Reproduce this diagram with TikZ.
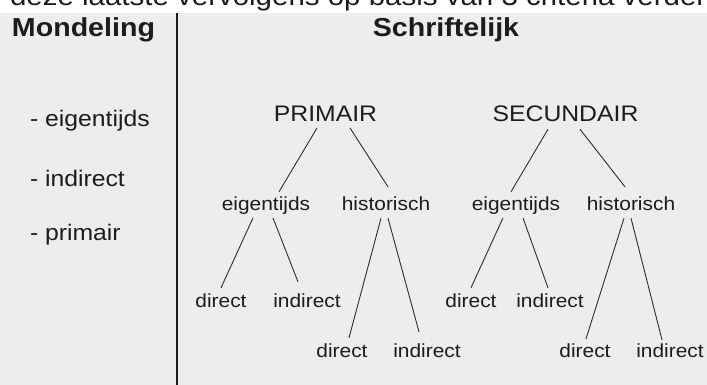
\documentclass[tikz,border=0pt]{standalone}
\usepackage{fontspec}
\setmainfont{Liberation Sans}[FakeStretch=1.1]
\begin{document}
\begin{tikzpicture}[x=1pt,y=-1pt,
  every node/.style={inner sep=0pt,outer sep=0pt,text=ink},
  heading/.style={font=\fontsize{26}{26}\selectfont\bfseries},
  listitem/.style={anchor=base west,font=\fontsize{22.5}{22.5}\selectfont},
  rootlabel/.style={anchor=base,font=\fontsize{22.5}{22.5}\selectfont},
  leaf/.style={anchor=base,font=\fontsize{19}{19}\selectfont},
  branch/.style={draw=edge,line width=0.9pt},
]
\definecolor{ink}{HTML}{1C1C1C}
\definecolor{edge}{HTML}{2E2E2E}
\definecolor{paper}{HTML}{EDEDED}
\useasboundingbox (0,0) rectangle (707,385);
\fill[white] (0,0) rectangle (707,13);
\fill[paper] (0,13) rectangle (707,385);

% running text line above the table, cut at the top edge
\node[anchor=base west,font=\fontsize{26.8}{26.8}\selectfont] (runtext) at (10,6)
  {deze laatste vervolgens op basis van 3 criteria verder};

% column divider
\coordinate (divtop) at (177,13);
\coordinate (divbot) at (177,385);
\draw[draw=ink,line width=1.5pt] (divtop) -- (divbot);

% column headings
\node[heading,anchor=base west] (oral) at (12,37) {Mondeling};
\node[heading,anchor=base] (written) at (446,37) {Schriftelijk};

% oral column
\node[listitem] (o1) at (30,127) {- eigentijds};
\node[listitem] (o2) at (30,186) {- indirect};
\node[listitem] (o3) at (30,240) {- primair};

% primary tree
\node[rootlabel] (prim) at (325.5,122) {PRIMAIR};
\node[leaf] (pe)  at (266,210) {eigentijds};
\node[leaf] (ph)  at (386,210) {historisch};
\node[leaf] (ped) at (221,307) {direct};
\node[leaf] (pei) at (307,307) {indirect};
\node[leaf] (phd) at (342,357) {direct};
\node[leaf] (phi) at (427,357) {indirect};

% secondary tree
\node[rootlabel] (sec) at (565.5,122) {SECUNDAIR};
\node[leaf] (se)  at (516,210) {eigentijds};
\node[leaf] (sh)  at (631,210) {historisch};
\node[leaf] (sed) at (471,307) {direct};
\node[leaf] (sei) at (550,307) {indirect};
\node[leaf] (shd) at (585,357) {direct};
\node[leaf] (shi) at (670,357) {indirect};

% primary branches
\draw[branch] ([shift={(-8.5,6)}]prim.south) -- ([shift={(13,-4.4)}]pe.north);
\draw[branch] ([shift={(24.5,6)}]prim.south) -- ([shift={(2,-9.4)}]ph.north);
\draw[branch] ([shift={(-13,4)}]pe.south) -- ([shift={(0,-5.4)}]ped.north);
\draw[branch] ([shift={(7,4)}]pe.south) -- ([shift={(-9,-11.4)}]pei.north);
\draw[branch] ([shift={(-5,8)}]ph.south) -- ([shift={(7,-5.4)}]phd.north);
\draw[branch] ([shift={(2,8)}]ph.south) -- ([shift={(-8,-11.4)}]phi.north);

% secondary branches
\draw[branch] ([shift={(-17.5,7)}]sec.south) -- ([shift={(-5,-4.4)}]se.north);
\draw[branch] ([shift={(14.5,7)}]sec.south) -- ([shift={(-6,-9.4)}]sh.north);
\draw[branch] ([shift={(-13,4)}]se.south) -- ([shift={(0,-5.4)}]sed.north);
\draw[branch] ([shift={(7,4)}]se.south) -- ([shift={(-2,-5.4)}]sei.north);
\draw[branch] ([shift={(-7,8)}]sh.south) -- ([shift={(1,-4.4)}]shd.north);
\draw[branch] ([shift={(0,8)}]sh.south) -- ([shift={(-8,-3.4)}]shi.north);
\end{tikzpicture}
\end{document}
